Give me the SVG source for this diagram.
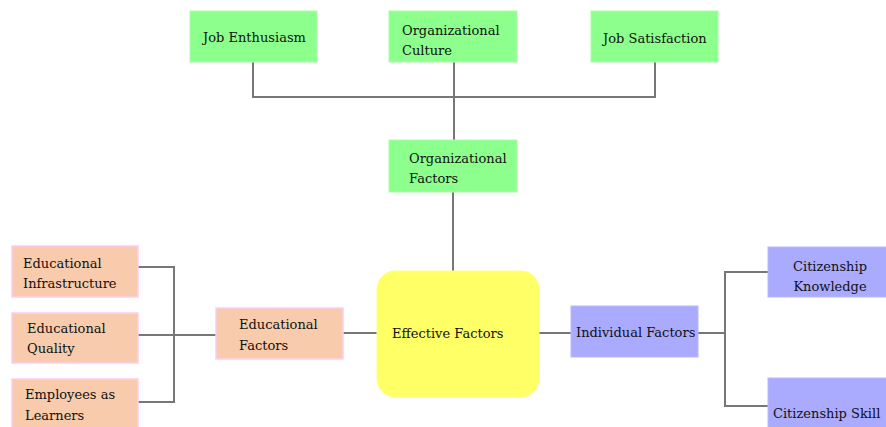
<svg xmlns="http://www.w3.org/2000/svg" width="886" height="427" viewBox="0 0 886 427">
<style>
.g{fill:#8cff8c;stroke:#a8ffa8;stroke-width:1}
.p{fill:#f7cbac;stroke:#ffccf0;stroke-width:1.5}
.b{fill:#aaaaff;stroke:#b8b8ff;stroke-width:1}
.y{fill:#ffff66;stroke:#ffff80;stroke-width:1}
text{font-family:'DejaVu Serif','Liberation Serif',serif;font-size:13px;fill:#111}
.c{fill:none;stroke:#777;stroke-width:2}
</style>
<rect width="886" height="427" fill="#fff"/>
<g id="connectors">
<path class="c" d="M253 62V97H655V62"/>
<path class="c" d="M454 62V140"/>
<path class="c" d="M453 192V271"/>
<path class="c" d="M343 333H377"/>
<path class="c" d="M539 333H571"/>
<path class="c" d="M138 267H174V402H138"/>
<path class="c" d="M138 335H216"/>
<path class="c" d="M698 333H725"/>
<path class="c" d="M768 272H725V406H768"/>
</g>
<g id="job-enthusiasm"><rect class="g" x="190" y="11" width="127" height="51"/><text x="203" y="42">Job Enthusiasm</text></g>
<g id="organizational-culture"><rect class="g" x="389" y="11" width="128" height="51"/><text x="402" y="35">Organizational</text><text x="402" y="55">Culture</text></g>
<g id="job-satisfaction"><rect class="g" x="591" y="11" width="127" height="51"/><text x="603" y="43">Job Satisfaction</text></g>
<g id="organizational-factors"><rect class="g" x="389" y="140" width="128" height="52"/><text x="409" y="163">Organizational</text><text x="409" y="183">Factors</text></g>
<g id="effective-factors"><rect class="y" x="377" y="271" width="162" height="126" rx="18"/><text x="392" y="338">Effective Factors</text></g>
<g id="educational-factors"><rect class="p" x="216" y="308" width="127" height="51"/><text x="239" y="329">Educational</text><text x="239" y="350">Factors</text></g>
<g id="educational-infrastructure"><rect class="p" x="12" y="246" width="126" height="51"/><text x="23" y="268">Educational</text><text x="23" y="288">Infrastructure</text></g>
<g id="educational-quality"><rect class="p" x="12" y="313" width="126" height="50"/><text x="27" y="333">Educational</text><text x="27" y="353">Quality</text></g>
<g id="employees-as-learners"><rect class="p" x="12" y="379" width="126" height="52"/><text x="25" y="399">Employees as</text><text x="25" y="420">Learners</text></g>
<g id="individual-factors"><rect class="b" x="571" y="306" width="127" height="51"/><text x="576" y="337">Individual Factors</text></g>
<g id="citizenship-knowledge"><rect class="b" x="768" y="247" width="126" height="50"/><text x="830" y="271" text-anchor="middle">Citizenship</text><text x="830" y="291" text-anchor="middle">Knowledge</text></g>
<g id="citizenship-skill"><rect class="b" x="768" y="378" width="126" height="55"/><text x="773" y="418">Citizenship Skill</text></g>
</svg>
